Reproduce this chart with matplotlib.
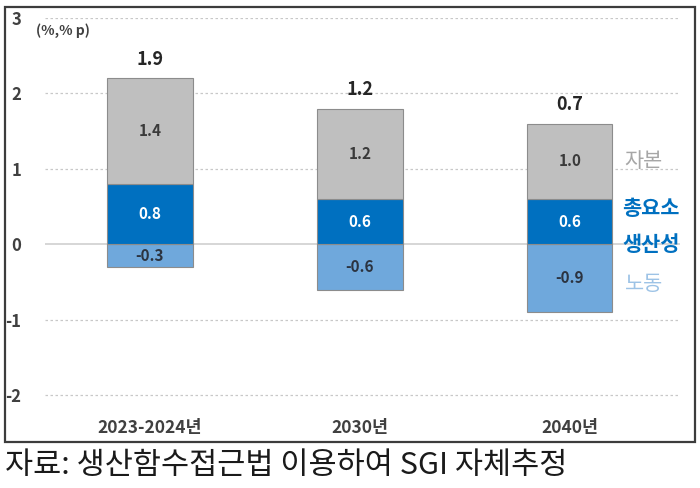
import matplotlib.pyplot as plt
from matplotlib.patches import Rectangle

plt.rcParams['font.family'] = ['Noto Sans CJK KR', 'DejaVu Sans']

categories = ['2023-2024년', '2030년', '2040년']
labor = [-0.3, -0.6, -0.9]
tfp = [0.8, 0.6, 0.6]
capital = [1.4, 1.2, 1.0]
total = [1.9, 1.2, 0.7]
yticks = [3, 2, 1, 0, -1, -2]

fig = plt.figure(figsize=(7, 4.88), dpi=100)
ax = fig.add_axes([45 / 700, 1 - 418 / 488, 635 / 700, 400 / 488])

x = range(len(categories))
w = 0.405
edge = '#8c8c8c'
ax.bar(x, labor, w, color='#6FA8DC', edgecolor=edge, linewidth=0.8, zorder=3)
ax.bar(x, tfp, w, color='#0070C0', edgecolor=edge, linewidth=0.8, zorder=3)
ax.bar(x, capital, w, bottom=tfp, color='#BFBFBF', edgecolor=edge, linewidth=0.8, zorder=3)

for i in x:
    ax.text(i, labor[i] / 2, f'{labor[i]:.1f}', ha='center', va='center',
            fontsize=11, fontweight='bold', color='#2b3340', zorder=4)
    ax.text(i, tfp[i] / 2, f'{tfp[i]:.1f}', ha='center', va='center',
            fontsize=11, fontweight='bold', color='white', zorder=4)
    ax.text(i, tfp[i] + capital[i] / 2, f'{capital[i]:.1f}', ha='center', va='center',
            fontsize=11, fontweight='bold', color='#3a3a3a', zorder=4)
    ax.text(i, tfp[i] + capital[i] + 0.13, f'{total[i]:.1f}', ha='center', va='bottom',
            fontsize=13, fontweight='bold', color='#262626', zorder=4)

# right-side series labels
ax.text(2.26, 1.1, '자본', ha='left', va='center', fontsize=15, color='#A6A6A6')
ax.text(2.25, 0.48, '총요소', ha='left', va='center', fontsize=15,
        fontweight='bold', color='#0070C0')
ax.text(2.25, 0.0, '생산성', ha='left', va='center', fontsize=15,
        fontweight='bold', color='#0070C0')
ax.text(2.26, -0.52, '노동', ha='left', va='center', fontsize=15, color='#9DC3E6')

ax.text(-0.545, 2.83, '(%,% p)', ha='left', va='center', fontsize=10,
        fontweight='bold', color='#404040')

ax.set_xlim(-0.5, 2.524)
ax.set_ylim(-2.3, 3)
for t in yticks:
    if t == 0:
        ax.axhline(0, color='#d0d0d0', linewidth=1.2, zorder=1)
    else:
        ax.axhline(t, color='#c8c8c8', linewidth=0.9, linestyle=(0, (2, 2)), zorder=1)

ax.set_yticks(yticks)
ax.set_yticklabels([str(t) for t in yticks])
ax.set_xticks(list(x))
ax.set_xticklabels(categories)
ax.tick_params(axis='y', length=0, pad=17, labelsize=12, labelcolor='#404040')
ax.tick_params(axis='x', length=0, pad=1, labelsize=12.5, labelcolor='#404040')
for lab in ax.get_xticklabels() + ax.get_yticklabels():
    lab.set_fontweight('bold')
for s in ax.spines.values():
    s.set_visible(False)

fig.patches.append(Rectangle((5 / 700, 1 - 442 / 488), 690 / 700, 435 / 488,
                             transform=fig.transFigure, fill=False,
                             edgecolor='#3c3c3c', linewidth=1.6))

fig.text(5 / 700, 1 - 466 / 488, '자료: 생산함수접근법 이용하여 SGI 자체추정',
         ha='left', va='center', fontsize=22, color='#1a1a1a')

fig.savefig('out.png', dpi=100)
